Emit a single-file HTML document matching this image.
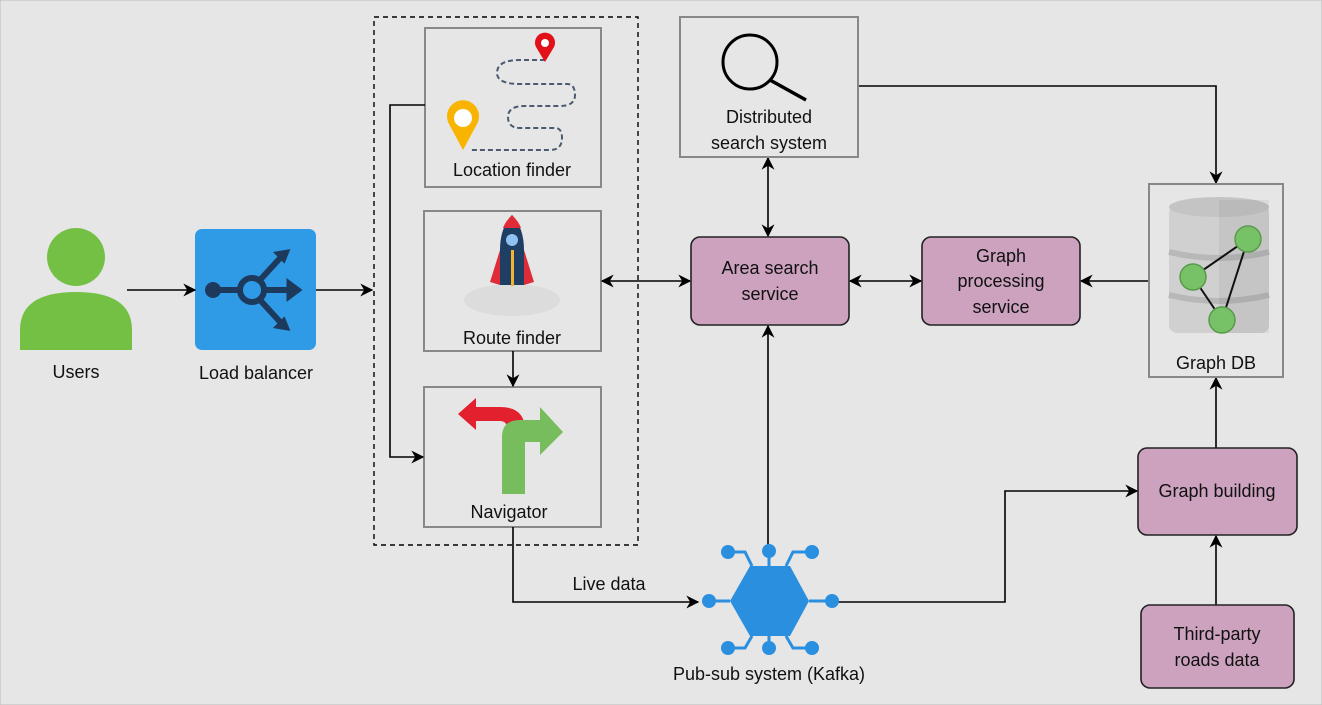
<!DOCTYPE html>
<html><head><meta charset="utf-8"><style>
html,body{margin:0;padding:0;background:#e6e6e6}
svg{display:block}
text{font-family:"Liberation Sans",sans-serif;font-size:18px;fill:#111;text-anchor:middle}
</style></head><body>
<svg width="1322" height="705" viewBox="0 0 1322 705" xmlns="http://www.w3.org/2000/svg">
<defs>
<marker id="a" viewBox="0 0 10 10" refX="9" refY="5" markerWidth="13" markerHeight="13" orient="auto-start-reverse" markerUnits="userSpaceOnUse"><path d="M0,0 L10,5 L0,10 L3,5z" fill="#000"/></marker>
</defs>
<rect x="0" y="0" width="1322" height="705" fill="#e6e6e6" stroke="#bbb"/>
<!-- Users -->
<circle cx="76" cy="257" r="29" fill="#74c045"/>
<path d="M20,350 L20,330 Q20,292 76,292 Q132,292 132,330 L132,350 Z" fill="#74c045"/>
<text x="76" y="378">Users</text>
<!-- Load balancer -->
<rect x="195" y="229" width="121" height="121" rx="7" fill="#2f9be6"/>
<g stroke="#1d3a5c" stroke-width="6" fill="none" stroke-linecap="round">
<line x1="213" y1="290" x2="240" y2="290"/>
<circle cx="252" cy="290" r="12"/>
<line x1="264" y1="290" x2="296" y2="290"/>
<path d="M260,280 L282,256"/><path d="M260,300 L282,324"/>
</g>
<circle cx="213" cy="290" r="8" fill="#1d3a5c"/>
<path d="M300,290 l-12,-9 v18z M288,251 l-12,2 l8,8z M288,329 l-12,-2 l8,-8z" fill="#1d3a5c" stroke="#1d3a5c" stroke-width="3"/>
<text x="256" y="379">Load balancer</text>
<g stroke="#000" stroke-width="1.6" fill="none">
<line x1="127" y1="290" x2="195" y2="290" marker-end="url(#a)"/>
<line x1="316" y1="290" x2="372" y2="290" marker-end="url(#a)"/>
</g>
<rect x="374" y="17" width="264" height="528" fill="none" stroke="#000" stroke-width="1.4" stroke-dasharray="5,4"/>
<!-- Location finder -->
<rect x="425" y="28" width="176" height="159" fill="#e6e6e6" stroke="#888" stroke-width="2"/>
<path d="M545,60 H520 Q497,60 497,73 Q497,84 520,84 H567 Q575,84 575,95 Q575,106 560,106 H525 Q508,106 508,117 Q508,128 520,128 H555 Q562,128 562,138 Q562,150 550,150 H470" fill="none" stroke="#4a5a70" stroke-width="2" stroke-dasharray="5,3"/>
<path d="M545,62 L536,47 A10,10 0 1 1 554,47 Z" fill="#e3101a"/><circle cx="545" cy="43" r="4" fill="#fff"/>
<path d="M463,150 L449,124 A16,16 0 1 1 477,124 Z" fill="#f8b400"/><circle cx="463" cy="118" r="9" fill="#fff"/>
<text x="512" y="176">Location finder</text>
<!-- Route finder -->
<rect x="424" y="211" width="177" height="140" fill="#e6e6e6" stroke="#888" stroke-width="2"/>
<ellipse cx="512" cy="300" rx="48" ry="16" fill="#dcdcdc"/>
<path d="M500,250 L490,282 L500,285 Z M524,250 L534,282 L524,285 Z" fill="#e02b38"/>
<path d="M512,215 Q500,228 500,250 V285 H524 V250 Q524,228 512,215Z" fill="#1f3e63"/>
<path d="M512,215 Q505,222 503,228 H521 Q519,222 512,215Z" fill="#e02b38"/>
<circle cx="512" cy="240" r="6" fill="#8fc2f0"/>
<rect x="511" y="250" width="3" height="36" fill="#f2b331"/>
<text x="512" y="344">Route finder</text>
<!-- Navigator -->
<rect x="424" y="387" width="177" height="140" fill="#e6e6e6" stroke="#888" stroke-width="2"/>
<path d="M476,398 L458,414 L476,430 V421 H500 Q508,421 508,432 V440 H525 V430 Q525,407 500,407 H476 Z" fill="#e3202e"/>
<path d="M502,494 V437 Q502,420 520,420 H540 V407 L563,432 L540,455 V442 H525 V494 Z" fill="#77bd5d"/>
<text x="509" y="518">Navigator</text>
<g stroke="#000" stroke-width="1.6" fill="none">
<line x1="513" y1="351" x2="513" y2="386" marker-end="url(#a)"/>
<polyline points="425,105 390,105 390,457 423,457" marker-end="url(#a)"/>
<line x1="602" y1="281" x2="690" y2="281" marker-start="url(#a)" marker-end="url(#a)"/>
<line x1="850" y1="281" x2="921" y2="281" marker-start="url(#a)" marker-end="url(#a)"/>
<line x1="1149" y1="281" x2="1081" y2="281" marker-end="url(#a)"/>
<polyline points="858,86 1216,86 1216,183" marker-end="url(#a)"/>
<line x1="768" y1="158" x2="768" y2="236" marker-start="url(#a)" marker-end="url(#a)"/>
<line x1="768" y1="545" x2="768" y2="326" marker-end="url(#a)"/>
<polyline points="513,527 513,602 698,602" marker-end="url(#a)"/>
<polyline points="838,602 1005,602 1005,491 1137,491" marker-end="url(#a)"/>
<line x1="1216" y1="448" x2="1216" y2="378" marker-end="url(#a)"/>
<line x1="1216" y1="605" x2="1216" y2="536" marker-end="url(#a)"/>
</g>
<text x="609" y="590">Live data</text>
<!-- Distributed search -->
<rect x="680" y="17" width="178" height="140" fill="#e6e6e6" stroke="#888" stroke-width="2"/>
<circle cx="750" cy="62" r="27" fill="none" stroke="#000" stroke-width="3"/>
<line x1="770" y1="80" x2="806" y2="100" stroke="#000" stroke-width="3.5"/>
<text x="769" y="123">Distributed</text>
<text x="769" y="149">search system</text>
<g fill="#cda2be" stroke="#222" stroke-width="1.6">
<rect x="691" y="237" width="158" height="88" rx="9"/>
<rect x="922" y="237" width="158" height="88" rx="9"/>
<rect x="1138" y="448" width="159" height="87" rx="9"/>
<rect x="1141" y="605" width="153" height="83" rx="9"/>
</g>
<text x="770" y="274">Area search</text>
<text x="770" y="300">service</text>
<text x="1001" y="262">Graph</text>
<text x="1001" y="287">processing</text>
<text x="1001" y="313">service</text>
<text x="1217" y="497">Graph building</text>
<text x="1217" y="640">Third-party</text>
<text x="1217" y="666">roads data</text>
<!-- Graph DB -->
<rect x="1149" y="184" width="134" height="193" fill="#e6e6e6" stroke="#888" stroke-width="2"/>
<rect x="1169" y="205" width="100" height="128" rx="8" fill="#d0d0d0"/>
<ellipse cx="1219" cy="207" rx="50" ry="10" fill="#c4c4c4"/>
<path d="M1169,252 Q1219,264 1269,252 M1169,295 Q1219,307 1269,295" stroke="#b8b8b8" stroke-width="6" fill="none"/>
<rect x="1219" y="200" width="50" height="133" fill="#000" opacity="0.05"/>
<g stroke="#111" stroke-width="2"><line x1="1248" y1="239" x2="1193" y2="277"/><line x1="1193" y1="277" x2="1222" y2="320"/><line x1="1248" y1="239" x2="1222" y2="320"/></g>
<g fill="#77c267" stroke="#5a9a4c" stroke-width="1.5">
<circle cx="1248" cy="239" r="13"/><circle cx="1193" cy="277" r="13"/><circle cx="1222" cy="320" r="13"/>
</g>
<text x="1216" y="369">Graph DB</text>
<!-- Kafka -->
<g stroke="#2b8fe0" stroke-width="3" fill="none">
<polyline points="752,566 745,552 728,552"/><line x1="769" y1="566" x2="769" y2="551"/><polyline points="786,566 793,552 812,552"/>
<polyline points="752,636 745,648 728,648"/><line x1="769" y1="636" x2="769" y2="648"/><polyline points="786,636 793,648 812,648"/>
<line x1="709" y1="601" x2="730" y2="601"/><line x1="809" y1="601" x2="832" y2="601"/>
</g>
<polygon points="730,601 750,566 790,566 809,601 790,636 750,636" fill="#2b8fe0"/>
<g fill="#2b8fe0">
<circle cx="728" cy="552" r="7"/><circle cx="769" cy="551" r="7"/><circle cx="812" cy="552" r="7"/>
<circle cx="728" cy="648" r="7"/><circle cx="769" cy="648" r="7"/><circle cx="812" cy="648" r="7"/>
<circle cx="709" cy="601" r="7"/><circle cx="832" cy="601" r="7"/>
</g>
<text x="769" y="680">Pub-sub system (Kafka)</text>
</svg>
</body></html>
